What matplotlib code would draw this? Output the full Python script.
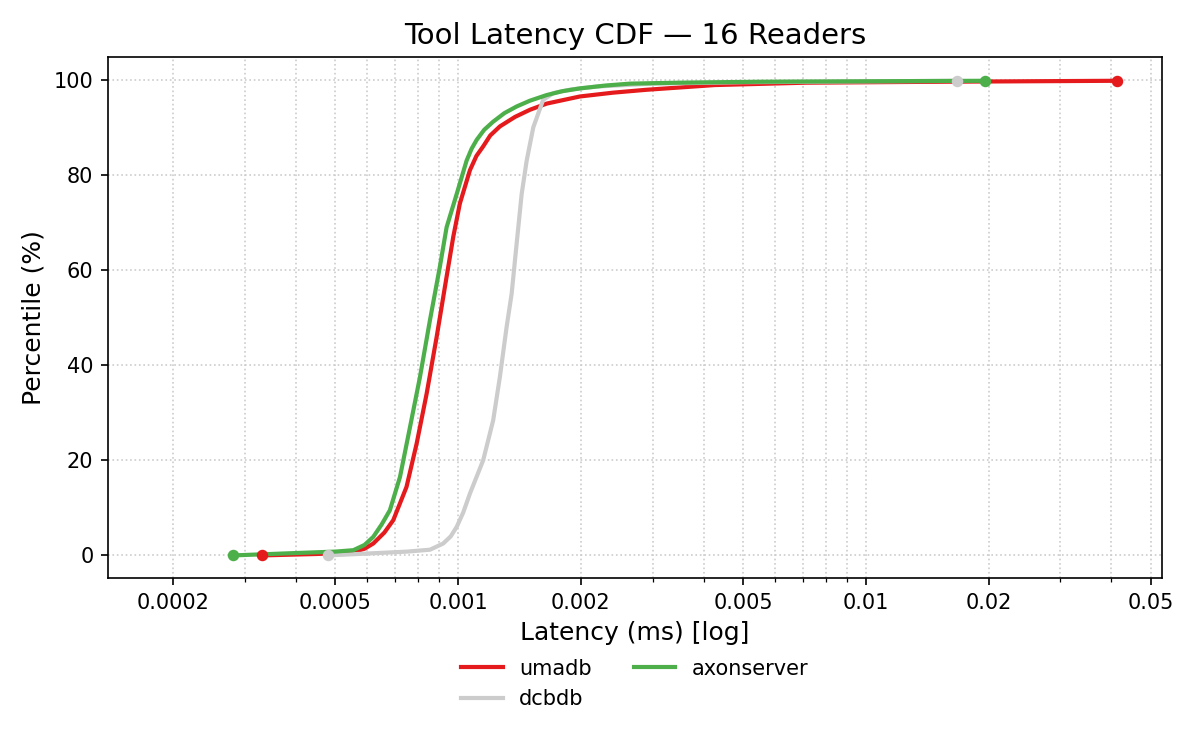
import numpy as np
import matplotlib
matplotlib.use("Agg")
import matplotlib.pyplot as plt
from matplotlib.ticker import FixedLocator, LogLocator, NullFormatter

# latency (ms) / percentile (%)
umadb_lat = [3.31e-4, 4.5e-4, 5.2e-4, 5.54e-4, 5.9e-4, 6.20e-4, 6.6e-4, 6.94e-4, 7.48e-4, 7.92e-4,
             8.38e-4, 8.87e-4, 9.38e-4, 9.74e-4, 1.011e-3, 1.070e-3, 1.11e-3, 1.153e-3, 1.2e-3,
             1.267e-3, 1.38e-3, 1.501e-3, 1.65e-3, 1.991e-3, 2.4e-3, 2.89e-3, 4.26e-3, 7.13e-3,
             0.0155, 0.0412]
umadb_pct = [0, 0.3, 0.5, 0.7, 1.4, 2.5, 4.8, 7.4, 14.4, 23.5, 34, 46, 58.6, 67, 74, 81, 84, 86,
             88.3, 90.2, 92.2, 93.7, 95.0, 96.5, 97.3, 97.9, 98.9, 99.4, 99.6, 99.8]

dcbdb_lat = [4.80e-4, 6.0e-4, 7.5e-4, 8.54e-4, 9.20e-4, 9.6e-4, 9.93e-4, 1.030e-3, 1.070e-3,
             1.153e-3, 1.220e-3, 1.267e-3, 1.316e-3, 1.354e-3, 1.393e-3, 1.433e-3, 1.474e-3,
             1.530e-3, 1.618e-3, 1.713e-3, 1.9e-3, 2.2e-3, 3.0e-3, 5.0e-3, 0.0167]
dcbdb_pct = [0, 0.4, 0.8, 1.2, 2.5, 4.0, 6, 9, 13, 20, 28.4, 37.5, 48, 55, 65.6, 76, 83, 90,
             95.8, 97.2, 98.0, 98.6, 99.2, 99.5, 99.8]

axon_lat = [2.81e-4, 4.0e-4, 5.0e-4, 5.54e-4, 5.9e-4, 6.20e-4, 6.5e-4, 6.81e-4, 7.21e-4, 7.63e-4,
            8.07e-4, 8.54e-4, 9.03e-4, 9.38e-4, 9.93e-4, 1.050e-3, 1.08e-3, 1.112e-3, 1.16e-3,
            1.220e-3, 1.3e-3, 1.393e-3, 1.5e-3, 1.650e-3, 1.8e-3, 1.991e-3, 2.3e-3, 2.64e-3,
            3.5e-3, 5.51e-3, 0.0196]
axon_pct = [0, 0.5, 0.8, 1.1, 2.2, 3.9, 6.5, 9.5, 16.5, 27, 37.5, 49.5, 60.7, 69, 76, 83, 85.5,
            87.4, 89.5, 91.2, 93.0, 94.4, 95.6, 96.8, 97.6, 98.2, 98.8, 99.2, 99.4, 99.6, 99.8]

series = [
    ("umadb", umadb_lat, umadb_pct, "#e41a1c"),
    ("dcbdb", dcbdb_lat, dcbdb_pct, "#cccccc"),
    ("axonserver", axon_lat, axon_pct, "#4daf4a"),
]

x_major = [0.0002, 0.0005, 0.001, 0.002, 0.005, 0.01, 0.02, 0.05]

fig = plt.figure(figsize=(8, 5), dpi=150)
ax = fig.add_axes([0.09, 0.229, 0.878, 0.695])

for name, lat, pct, col in series:
    ax.plot(lat, pct, color=col, lw=2, label=name)

# end-point dots
for name, lat, pct, col in series:
    ax.plot([lat[0], lat[-1]], [pct[0], pct[-1]], "o", color=col, ms=4.5, zorder=5)

ax.set_xscale("log")
ax.set_xlim(1.387e-4, 0.0531)
ax.set_ylim(-4.8, 104.8)
ax.xaxis.set_major_locator(FixedLocator(x_major))
ax.set_xticklabels([f"{v:g}" for v in x_major])
ax.xaxis.set_minor_locator(LogLocator(base=10, subs=np.arange(1, 10)))
ax.xaxis.set_minor_formatter(NullFormatter())
ax.set_yticks([0, 20, 40, 60, 80, 100])
ax.tick_params(labelsize=10)

ax.grid(True, which="both", axis="x", linestyle=":", color="#cccccc", lw=0.8)
ax.grid(True, which="major", axis="y", linestyle=":", color="#cccccc", lw=0.8)
ax.set_axisbelow(True)

ax.set_title("Tool Latency CDF — 16 Readers", fontsize=14)
ax.set_xlabel("Latency (ms) [log]", fontsize=12)
ax.set_ylabel("Percentile (%)", fontsize=12)

ax.legend(loc="upper center", bbox_to_anchor=(0.5, -0.118), ncol=2, frameon=False,
          fontsize=10, columnspacing=2.0)

fig.savefig("out.png", dpi=150)
